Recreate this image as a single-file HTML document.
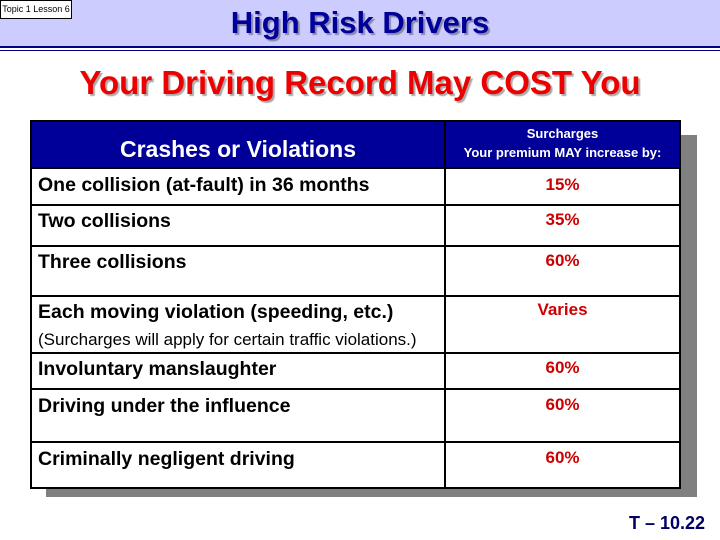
<!DOCTYPE html>
<html><head><meta charset="utf-8"><style>
body{margin:0;width:720px;height:540px;background:#fff;position:relative;overflow:hidden;font-family:"Liberation Sans",Arial,sans-serif;}
.abs{position:absolute;}
.band{left:0;top:0;width:720px;height:46px;background:#ccccff;}
.l1{left:0;top:46px;width:720px;height:2px;background:#000080;}
.l2{left:0;top:50px;width:720px;height:1px;background:#000080;}
.topic{left:0;top:0;width:72px;height:19px;border:1px solid #000;background:#fff;font-size:9px;line-height:17px;text-align:center;box-sizing:border-box;}
.title{left:0;width:720px;top:5px;text-align:center;font-size:31px;font-weight:bold;color:#000099;text-shadow:2px 2px 1px #8888aa;}
.sub{left:0;width:720px;top:64px;text-align:center;font-size:33px;font-weight:bold;color:#ee0000;text-shadow:2px 2px 1px #aaaaaa;}
.shadow{left:46px;top:135px;width:651px;height:362px;background:#808080;}
.tbl{left:30px;top:120px;width:651px;height:369px;background:#fff;border:2px solid #000;box-sizing:border-box;}
.hd{left:0;top:0;width:647px;height:46px;background:#000099;}
.hl{height:2px;background:#000;left:0;width:647px;}
.vd{left:412px;top:0;width:2px;height:365px;background:#000;}
.c{color:#000;font-size:19.5px;font-weight:bold;left:6px;}
.v{color:#cc0000;font-size:17px;font-weight:bold;left:414px;width:233px;text-align:center;}
</style></head><body>
<div class="abs band"></div>
<div class="abs l1"></div>
<div class="abs l2"></div>
<div class="abs topic">Topic 1 Lesson 6</div>
<div class="abs title">High Risk Drivers</div>
<div class="abs sub">Your Driving Record May COST You</div>
<div class="abs shadow"></div>
<div class="abs tbl">
<div class="abs hd"></div>
<div class="abs" style="left:0;width:412px;top:14px;text-align:center;color:#fff;font-size:23px;font-weight:bold;">Crashes or Violations</div>
<div class="abs" style="left:414px;width:233px;top:2px;text-align:center;color:#fff;font-size:13px;font-weight:bold;line-height:19px;">Surcharges<br>Your premium MAY increase by:</div>
<div class="abs vd"></div>
<div class="abs hl" style="top:45px"></div>
<div class="abs hl" style="top:82px"></div>
<div class="abs hl" style="top:123px"></div>
<div class="abs hl" style="top:173px"></div>
<div class="abs hl" style="top:230px"></div>
<div class="abs hl" style="top:266px"></div>
<div class="abs hl" style="top:319px"></div>
<div class="abs c" style="top:52px">One collision (at-fault) in 36 months</div>
<div class="abs c" style="top:88px">Two collisions</div>
<div class="abs c" style="top:129px">Three collisions</div>
<div class="abs c" style="top:179px">Each moving violation (speeding, etc.)</div>
<div class="abs" style="left:6px;top:208px;font-size:17px;">(Surcharges will apply for certain traffic violations.)</div>
<div class="abs c" style="top:236px">Involuntary manslaughter</div>
<div class="abs c" style="top:273px">Driving under the influence</div>
<div class="abs c" style="top:326px">Criminally negligent driving</div>
<div class="abs v" style="top:53px">15%</div>
<div class="abs v" style="top:88px">35%</div>
<div class="abs v" style="top:129px">60%</div>
<div class="abs v" style="top:178px">Varies</div>
<div class="abs v" style="top:236px">60%</div>
<div class="abs v" style="top:273px">60%</div>
<div class="abs v" style="top:326px">60%</div>
</div>
<div class="abs" style="left:629px;top:513px;font-size:18px;font-weight:bold;color:#000066;">T – 10.22</div>
</body></html>
